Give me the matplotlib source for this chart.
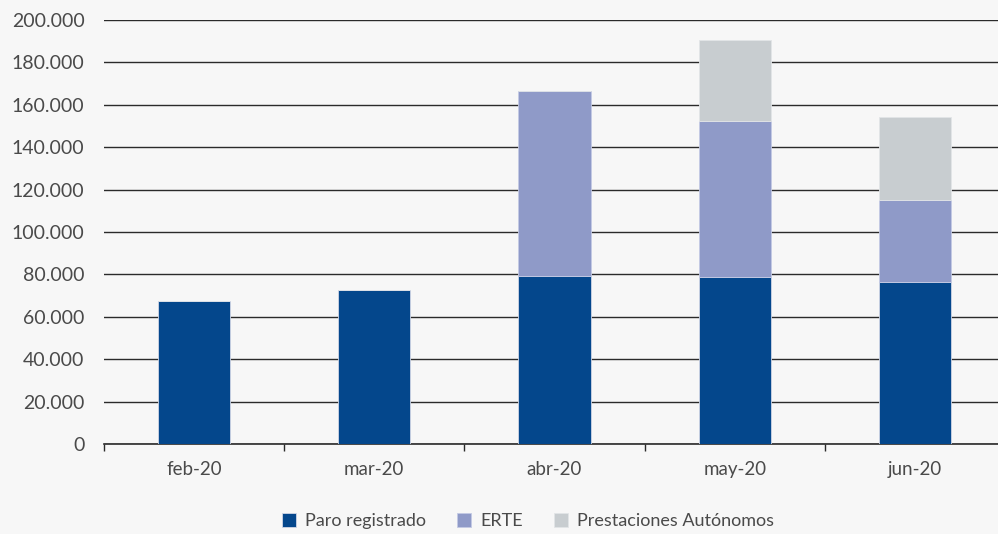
import numpy as np
import matplotlib.pyplot as plt
from matplotlib.ticker import FuncFormatter

# datos
meses = ["feb-20", "mar-20", "abr-20", "may-20", "jun-20"]
paro = [67500, 72600, 79400, 78900, 76600]
erte = [0, 0, 87300, 73500, 38600]
autonomos = [0, 0, 0, 38200, 39200]
yticks = np.arange(0, 200001, 20000)

plt.rcParams['font.family'] = ['Lato', 'DejaVu Sans']
txt = '#4a4a4a'
bg = '#f7f7f7'

fig = plt.figure(figsize=(9.98, 5.34), dpi=100, facecolor=bg)
ax = fig.add_axes([104 / 998, 1 - 444 / 534, 901 / 998, 424 / 534], facecolor=bg)

x = np.arange(len(meses))
w = 0.4
ax.bar(x, paro, w, color='#04478c', edgecolor='#d0d6e6', linewidth=0.6,
       label='Paro registrado', zorder=3)
ax.bar(x, erte, w, bottom=paro, color='#8f9ac8', edgecolor='#c4cae4', linewidth=0.6,
       label='ERTE', zorder=3)
base2 = np.array(paro) + np.array(erte)
ax.bar(x, autonomos, w, bottom=base2, color='#c8cdd0', edgecolor='#e2e5e7', linewidth=0.6,
       label='Prestaciones Autónomos', zorder=3)

ax.set_xlim(-0.5, len(meses) - 0.5)
ax.set_ylim(0, 200000)
ax.set_yticks(yticks)
ax.yaxis.set_major_formatter(FuncFormatter(lambda v, p: f"{int(v):,}".replace(",", ".")))
ax.grid(axis='y', color='#2a2a2a', linewidth=1.0, zorder=0)

ax.set_xticks(x)
ax.set_xticklabels(meses)
ax.set_xticks(np.arange(-0.5, len(meses), 1), minor=True)
ax.tick_params(axis='x', which='major', length=0, pad=12, labelsize=13.5, labelcolor=txt)
ax.tick_params(axis='x', which='minor', length=5, width=1, color='#2a2a2a')
ax.tick_params(axis='y', length=0, pad=14, labelsize=14, labelcolor=txt)

for s in ['top', 'right', 'left']:
    ax.spines[s].set_visible(False)
ax.spines['bottom'].set_color('#2a2a2a')
ax.spines['bottom'].set_linewidth(1.2)

leg = fig.legend(loc='center', bbox_to_anchor=(528 / 998, 1 - 521 / 534), ncol=3,
                 frameon=False, fontsize=13, handlelength=0.8, handleheight=0.8,
                 handletextpad=0.5, columnspacing=1.7)
for t in leg.get_texts():
    t.set_color(txt)

fig.savefig("out.png", dpi=100, facecolor=bg)
